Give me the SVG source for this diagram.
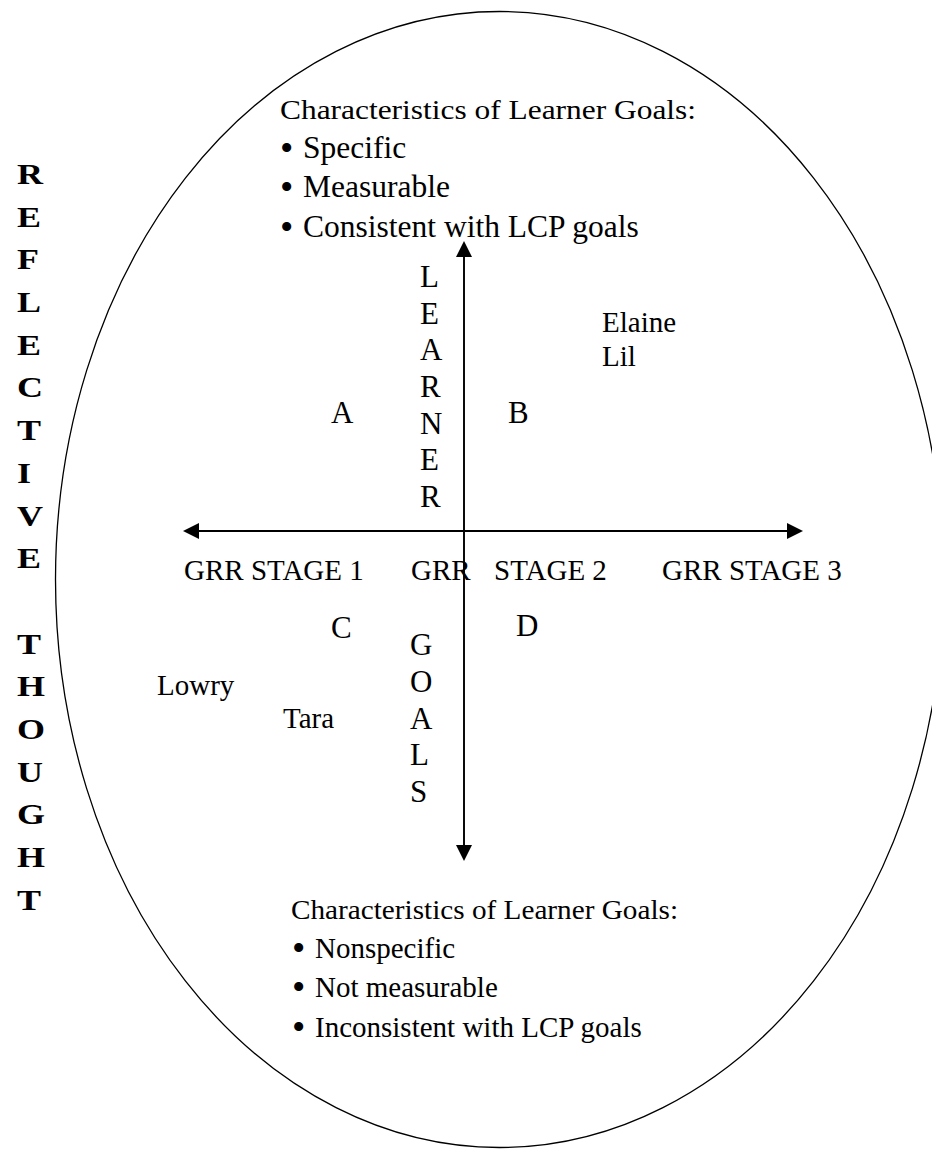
<svg xmlns="http://www.w3.org/2000/svg" width="932" height="1149" viewBox="0 0 932 1149">
  <style>
    text { font-family: "Liberation Serif", "Times New Roman", serif; fill: #000; }
    .hdr { font-size: 27.5px; }
    .big { font-size: 31.5px; }
    .mid { font-size: 29px; }
    .ax { font-size: 31px; }
    .side { font-size: 30px; font-weight: bold; }
    .dot { font-size: 38px; }
    .axis { stroke: #000; fill: none; }
  </style>
  <defs>
    <marker id="head" viewBox="0 0 16 16" refX="0" refY="8" markerWidth="16" markerHeight="16" markerUnits="userSpaceOnUse" orient="auto">
      <path d="M0,0 L16,8 L0,16 Z" fill="#000"/>
    </marker>
  </defs>

  <rect width="932" height="1149" fill="#fff"/>

  <!-- outer boundary -->
  <g id="boundary">
    <ellipse cx="499.5" cy="579.5" rx="444" ry="568" fill="none" stroke="#000" stroke-width="1.3"/>
  </g>

  <!-- side caption, one letter per line -->
  <g id="reflective-thought" transform="translate(17,0) scale(1.2,1)">
    <text class="side">
      <tspan x="0" y="184">R</tspan>
      <tspan x="0" y="226.7">E</tspan>
      <tspan x="0" y="269.4">F</tspan>
      <tspan x="0" y="312.1">L</tspan>
      <tspan x="0" y="354.8">E</tspan>
      <tspan x="0" y="397.5">C</tspan>
      <tspan x="0" y="440.2">T</tspan>
      <tspan x="0" y="482.9">I</tspan>
      <tspan x="0" y="525.6">V</tspan>
      <tspan x="0" y="568.3">E</tspan>
      <tspan x="0" y="653.7">T</tspan>
      <tspan x="0" y="696.4">H</tspan>
      <tspan x="0" y="739.1">O</tspan>
      <tspan x="0" y="781.8">U</tspan>
      <tspan x="0" y="824.5">G</tspan>
      <tspan x="0" y="867.2">H</tspan>
      <tspan x="0" y="909.9">T</tspan>
    </text>
  </g>

  <!-- axes -->
  <g id="connectors" class="axis">
    <line x1="464" y1="845" x2="464" y2="257" stroke-width="1.6" marker-end="url(#head)"/>
    <line x1="464" y1="257" x2="464" y2="845" stroke-width="1.6" marker-end="url(#head)"/>
    <line x1="787" y1="531" x2="199" y2="531" stroke-width="2.2" marker-end="url(#head)"/>
    <line x1="199" y1="531" x2="787" y2="531" stroke-width="2.2" marker-end="url(#head)"/>
  </g>

  <!-- upper characteristics -->
  <g id="goals-high">
    <text class="hdr" x="280" y="119" textLength="416" lengthAdjust="spacingAndGlyphs">Characteristics of Learner Goals:</text>
    <text class="big"><tspan class="dot" x="280" y="160.5">•</tspan><tspan x="303" y="158">Specific</tspan></text>
    <text class="big"><tspan class="dot" x="280" y="199.5">•</tspan><tspan x="303" y="197">Measurable</tspan></text>
    <text class="big"><tspan class="dot" x="280" y="239.5">•</tspan><tspan x="303" y="237">Consistent with LCP goals</tspan></text>
  </g>

  <!-- vertical axis label, upper half -->
  <g id="learner-label">
    <text class="ax">
      <tspan x="420" y="287">L</tspan>
      <tspan x="420" y="323.7">E</tspan>
      <tspan x="420" y="360.3">A</tspan>
      <tspan x="420" y="397">R</tspan>
      <tspan x="420" y="433.7">N</tspan>
      <tspan x="420" y="470.3">E</tspan>
      <tspan x="420" y="507">R</tspan>
    </text>
  </g>

  <!-- quadrant letters -->
  <g id="quadrant-a"><text class="ax" x="331" y="423">A</text></g>
  <g id="quadrant-b"><text class="ax" x="508" y="423">B</text></g>
  <g id="quadrant-c"><text class="ax" x="331" y="638">C</text></g>
  <g id="quadrant-d"><text class="ax" x="516" y="636">D</text></g>

  <!-- participants -->
  <g id="elaine"><text class="mid" x="602" y="332">Elaine</text></g>
  <g id="lil"><text class="mid" x="602" y="366">Lil</text></g>
  <g id="lowry"><text class="mid" x="157" y="695">Lowry</text></g>
  <g id="tara"><text class="mid" x="283" y="728">Tara</text></g>

  <!-- horizontal axis stages -->
  <g id="stage-1"><text class="mid" x="184" y="580">GRR STAGE 1</text></g>
  <g id="stage-2"><text class="mid" x="411" y="580">GRR</text><text class="mid" x="494" y="580">STAGE 2</text></g>
  <g id="stage-3"><text class="mid" x="662" y="580">GRR STAGE 3</text></g>

  <!-- vertical axis label, lower half -->
  <g id="goals-label">
    <text class="ax">
      <tspan x="410" y="655">G</tspan>
      <tspan x="410" y="692">O</tspan>
      <tspan x="410" y="728.5">A</tspan>
      <tspan x="410" y="765">L</tspan>
      <tspan x="410" y="802">S</tspan>
    </text>
  </g>

  <!-- lower characteristics -->
  <g id="goals-low">
    <text class="hdr" x="291" y="919" textLength="387" lengthAdjust="spacingAndGlyphs">Characteristics of Learner Goals:</text>
    <text class="mid"><tspan class="dot" x="292" y="961">•</tspan><tspan x="315" y="958">Nonspecific</tspan></text>
    <text class="mid"><tspan class="dot" x="292" y="1000">•</tspan><tspan x="315" y="997">Not measurable</tspan></text>
    <text class="mid"><tspan class="dot" x="292" y="1040">•</tspan><tspan x="315" y="1037">Inconsistent with LCP goals</tspan></text>
  </g>
</svg>
